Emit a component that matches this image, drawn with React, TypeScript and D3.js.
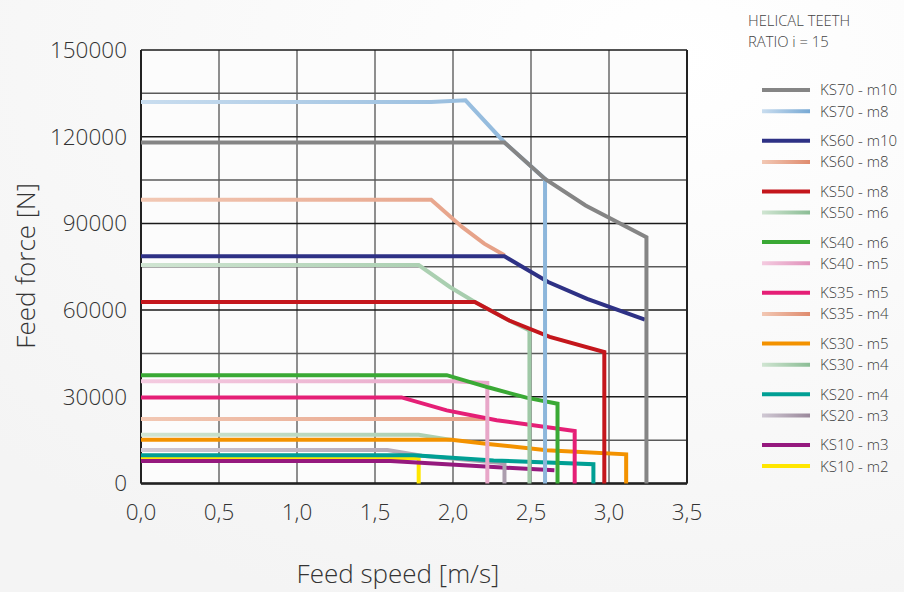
import * as d3 from 'd3'

// speed [m/s], force [N] pairs
const ks70m10 = [[0, 118000], [2.33, 118000], [2.59, 105400], [2.85, 96200], [3.24, 85200], [3.24, 0]]
const ks70m8 = [[0, 132000], [1.86, 132000], [2.08, 132600], [2.33, 118000], [2.59, 105400], [2.59, 0]]
const ks60m10 = [[0, 78600], [2.33, 78600], [2.61, 69700], [2.86, 63900], [3.23, 56700]]
const ks60m8 = [[0, 98200], [1.86, 98200], [2.06, 88700], [2.2, 83000], [2.33, 79000]]
const ks50m8 = [[0, 62800], [2.14, 62800], [2.36, 56400], [2.62, 50700], [2.97, 45500], [2.97, 0]]
const ks50m6 = [[0, 75600], [1.78, 75600], [1.98, 68000], [2.14, 62800], [2.36, 56400], [2.49, 53000], [2.49, 0]]
const ks40m6 = [[0, 37500], [1.96, 37500], [2.23, 33200], [2.47, 29700], [2.67, 27600], [2.67, 0]]
const ks40m5 = [[0, 35400], [2.0, 35400], [2.22, 34800], [2.22, 0]]
const ks35m5 = [[0, 29800], [1.67, 29800], [1.96, 25300], [2.28, 21900], [2.78, 18200], [2.78, 0]]
const ks35m4 = [[0, 22300], [2.21, 22300]]
const ks30m5 = [[0, 15100], [1.99, 15100], [2.24, 13600], [2.6, 11500], [3.11, 10100], [3.11, 0]]
const ks30m4 = [[0, 16900], [1.78, 16900], [1.99, 15100]]
const ks20m4 = [[0, 9800], [1.75, 9800], [2.26, 8000], [2.9, 6700], [2.9, 0]]
const ks20m3 = [[0, 11600], [1.58, 11600], [1.8, 9600], [2.33, 7000], [2.33, 0]]
const ks10m3 = [[0, 7800], [1.6, 7800], [2.26, 5700], [2.65, 4600]]
const ks10m2 = [[0, 8800], [1.78, 8800], [1.78, 0]]

const seriesNames = [
  'KS70 - m10', 'KS70 - m8', 'KS60 - m10', 'KS60 - m8', 'KS50 - m8', 'KS50 - m6',
  'KS40 - m6', 'KS40 - m5', 'KS35 - m5', 'KS35 - m4', 'KS30 - m5', 'KS30 - m4',
  'KS20 - m4', 'KS20 - m3', 'KS10 - m3', 'KS10 - m2',
]
const seriesData = [
  ks70m10, ks70m8, ks60m10, ks60m8, ks50m8, ks50m6, ks40m6, ks40m5,
  ks35m5, ks35m4, ks30m5, ks30m4, ks20m4, ks20m3, ks10m3, ks10m2,
]
// solid colour, or [light, dark] for the faded lines
const seriesColors: (string | string[])[] = [
  '#858585', ['#c9ddef', '#78a9d4'], '#2e3185', ['#f2c8b4', '#df8b6e'],
  '#c4161c', ['#d0e5d2', '#8bbd95'], '#3aa935', ['#f4cbe0', '#e192bb'],
  '#e51f76', ['#f2c8b4', '#df8b6e'], '#f39200', ['#d0e5d2', '#8bbd95'],
  '#009f94', ['#d0c9d4', '#9a889b'], '#95197e', '#ffe600',
]

const xTicks = [0, 0.5, 1, 1.5, 2, 2.5, 3, 3.5]
const yTicks = [0, 30000, 60000, 90000, 120000, 150000]
const yGrid = d3.range(0, 150001, 15000)

const W = 904
const H = 592
const left = 141
const right = 687
const top = 50
const bottom = 483.5
const font = '"Open Sans", "DejaVu Sans", sans-serif'

export default function App() {
  const x = d3.scaleLinear().domain([0, 3.5]).range([left, right])
  const y = d3.scaleLinear().domain([0, 150000]).range([bottom, top])
  const line = d3.line<number[]>().x((d) => x(d[0])).y((d) => y(d[1]))

  const stroke = (i: number, pre: string) =>
    Array.isArray(seriesColors[i]) ? `url(#${pre}${i})` : (seriesColors[i] as string)

  const legendY = (i: number) => 90 + Math.floor(i / 2) * 50.7 + (i % 2) * 21.2
  const order = d3.range(seriesData.length).reverse()

  return (
    <svg width={W} height={H} style={{ position: 'absolute', left: 0, top: 0 }} fontFamily={font}>
      <defs>
        <radialGradient id="bg" cx="0.75" cy="0.1" r="1">
          <stop offset="0%" stopColor="#ffffff" />
          <stop offset="100%" stopColor="#f4f4f4" />
        </radialGradient>
        {seriesColors.map((c, i) =>
          Array.isArray(c) ? (
            <linearGradient key={'g' + i} id={'g' + i} gradientUnits="userSpaceOnUse" x1={left} x2={right} y1={0} y2={0}>
              <stop offset="0%" stopColor={c[0]} />
              <stop offset="100%" stopColor={c[1]} />
            </linearGradient>
          ) : null
        )}
        {seriesColors.map((c, i) =>
          Array.isArray(c) ? (
            <linearGradient key={'l' + i} id={'l' + i} gradientUnits="userSpaceOnUse" x1={762} x2={810} y1={0} y2={0}>
              <stop offset="0%" stopColor={c[0]} />
              <stop offset="100%" stopColor={c[1]} />
            </linearGradient>
          ) : null
        )}
      </defs>
      <rect width={W} height={H} fill="url(#bg)" />
      <rect x={left} y={top} width={right - left} height={bottom - top} fill="#fcfcfc" />

      {/* grid */}
      {xTicks.map((t) => (
        <line key={'vx' + t} x1={x(t)} x2={x(t)} y1={top} y2={bottom} stroke="#6a6a6a" strokeWidth={1.5} />
      ))}
      {yGrid.map((t, i) => (
        <line key={'hy' + t} x1={left} x2={right} y1={y(t)} y2={y(t)} stroke={i % 2 ? '#5a5a5a' : '#1a1a1a'} strokeWidth={1.5} />
      ))}
      <line x1={left} x2={left} y1={top} y2={bottom} stroke="#222" strokeWidth={2} />
      <line x1={right} x2={right} y1={top} y2={bottom} stroke="#222" strokeWidth={2} />
      <line x1={left} x2={right} y1={bottom} y2={bottom} stroke="#222" strokeWidth={2.5} />

      {/* curves */}
      {order.map((i) => (
        <path key={'s' + i} d={line(seriesData[i]) || ''} fill="none" stroke={stroke(i, 'g')}
          strokeWidth={4} strokeLinejoin="miter" />
      ))}

      {/* ticks */}
      {yTicks.map((t) => (
        <text key={'yt' + t} x={127} y={y(t)} dy="0.35em" textAnchor="end" fontSize={22.5}
          fontWeight={300} fill="#333">{t}</text>
      ))}
      {xTicks.map((t) => (
        <text key={'xt' + t} x={x(t)} y={520} textAnchor="middle" fontSize={22.5}
          fontWeight={300} fill="#333">{d3.format('.1f')(t).replace('.', ',')}</text>
      ))}
      <text x={398} y={583} textAnchor="middle" fontSize={26} fontWeight={300} fill="#333">Feed speed [m/s]</text>
      <text transform={`translate(35,${(top + bottom) / 2 - 1}) rotate(-90)`} textAnchor="middle" fontSize={26}
        fontWeight={300} fill="#333">Feed force [N]</text>

      {/* legend */}
      <text x={748} y={26} fontSize={14.8} fontWeight={300} fill="#444">HELICAL TEETH</text>
      <text x={748} y={47} fontSize={14.8} fontWeight={300} fill="#444">RATIO i = 15</text>
      {seriesNames.map((n, i) => (
        <g key={'lg' + i}>
          <line x1={762} x2={810} y1={legendY(i)} y2={legendY(i)} stroke={stroke(i, 'l')} strokeWidth={4} />
          <text x={820} y={legendY(i)} dy="0.36em" fontSize={15} fontWeight={300} fill="#3c3c3c">{n}</text>
        </g>
      ))}
    </svg>
  )
}
